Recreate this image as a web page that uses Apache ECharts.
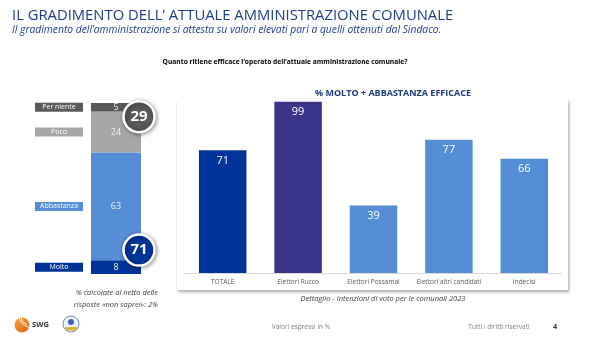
<!DOCTYPE html>
<html>
<head>
<meta charset="utf-8">
<script src="https://cdn.jsdelivr.net/npm/echarts@6/dist/echarts.min.js"></script>
<style>
  html, body { margin: 0; padding: 0; background: #ffffff; }
  #chart { width: 600px; height: 337px; }
</style>
</head>
<body>
<div id="chart"></div>
<script>
// Giudizio complessivo: segmenti dal basso verso l'alto
const judgementNames = ['Molto', 'Abbastanza', 'Poco', 'Per niente'];
const judgementValues = [8, 63, 24, 5];
const judgementColors = ['#003399', '#558ed5', '#a6a6a6', '#595959'];

// % molto + abbastanza efficace per gruppo di elettori
const groupNames = ['TOTALE', 'Elettori Rucco', 'Elettori Possamai', 'Elettori altri candidati', 'Indecisi'];
const groupValues = [71, 99, 39, 77, 66];
const groupColors = ['#003399', '#3b3589', '#558ed5', '#558ed5', '#558ed5'];

const FONT = 'Open Sans';

const positive = judgementValues[0] + judgementValues[1];
const negative = judgementValues[2] + judgementValues[3];

const chart = echarts.init(document.getElementById('chart'), null, { renderer: 'canvas' });

const stackSeries = judgementNames.map((name, i) => ({
  name: name,
  type: 'bar',
  stack: 'giudizio',
  xAxisIndex: 0,
  yAxisIndex: 0,
  barWidth: 50,
  barGap: '-100%',
  data: [judgementValues[i]],
  itemStyle: { color: judgementColors[i] },
  label: {
    show: true,
    position: 'inside',
    color: '#f2f2f2',
    fontFamily: FONT,
    fontSize: 9
  },
  z: 3
}));

// Etichette con il nome della risposta a sinistra di ciascun segmento
const nameSeries = judgementNames.map((name, i) => ({
  name: name + ' etichetta',
  type: 'bar',
  stack: 'nomi',
  xAxisIndex: 0,
  yAxisIndex: 0,
  barWidth: 50,
  barGap: '-100%',
  data: [judgementValues[i]],
  itemStyle: { color: 'rgba(0,0,0,0)' },
  silent: true,
  label: {
    show: true,
    position: [-32, '50%'],
    align: 'center',
    verticalAlign: 'middle',
    formatter: name,
    color: '#ffffff',
    fontFamily: FONT,
    fontSize: 7,
    lineHeight: 8,
    width: 42,
    padding: [1, 3, 0, 3],
    backgroundColor: judgementColors[i]
  },
  z: 4
}));

// Cerchi con i totali negativi e positivi
const badgeSeries = {
  type: 'scatter',
  xAxisIndex: 0,
  yAxisIndex: 0,
  symbol: 'circle',
  symbolSize: 31,
  symbolOffset: [23, 0],
  data: [
    { value: [0, 92], itemStyle: { color: judgementColors[3] }, label: { formatter: String(negative) } },
    { value: [0, 14], itemStyle: { color: judgementColors[0] }, label: { formatter: String(positive) } }
  ],
  itemStyle: {
    opacity: 1,
    borderColor: '#ffffff',
    borderWidth: 2.5,
    shadowColor: 'rgba(0,0,0,0.4)',
    shadowBlur: 4,
    shadowOffsetX: 1,
    shadowOffsetY: 1
  },
  label: {
    show: true,
    position: 'inside',
    color: '#ffffff',
    fontFamily: FONT,
    fontWeight: 'bold',
    fontSize: 15
  },
  z: 10
};

const groupSeries = {
  type: 'bar',
  xAxisIndex: 1,
  yAxisIndex: 1,
  barWidth: '63%',
  data: groupValues.map((v, i) => ({ value: v, itemStyle: { color: groupColors[i] } })),
  label: {
    show: true,
    position: 'insideTop',
    distance: 5,
    color: '#ffffff',
    fontFamily: FONT,
    fontSize: 11
  },
  z: 3
};

const option = {
  animation: false,
  backgroundColor: '#ffffff',
  grid: [
    { left: 91, top: 103, width: 50, height: 171 },
    { left: 185, top: 100, width: 377, height: 173 }
  ],
  xAxis: [
    { type: 'category', gridIndex: 0, data: [''], show: false },
    {
      type: 'category', gridIndex: 1, data: groupNames,
      axisTick: { show: false },
      axisLine: { lineStyle: { color: '#d9d9d9', width: 1 } },
      axisLabel: { color: '#595959', fontFamily: FONT, fontSize: 6.5, margin: 6, interval: 0 }
    }
  ],
  yAxis: [
    { type: 'value', gridIndex: 0, min: 0, max: 100, show: false },
    { type: 'value', gridIndex: 1, min: 0, max: 100, show: false }
  ],
  graphic: [
    // pannello con ombra del grafico di dettaglio
    {
      type: 'rect', z: 0,
      shape: { x: 177, y: 99, width: 391, height: 191 },
      style: { fill: '#ffffff', shadowColor: 'rgba(0,0,0,0.35)', shadowBlur: 3, shadowOffsetX: 1, shadowOffsetY: 2 }
    },
    {
      type: 'text', left: 12, top: 8, z: 5,
      style: { text: 'IL GRADIMENTO DELL\u2019 ATTUALE AMMINISTRAZIONE COMUNALE', fill: '#1f3b8f', font: '14.8px "' + FONT + '"' }
    },
    {
      type: 'text', left: 12, top: 25, z: 5,
      style: { text: 'Il gradimento dell\u2019amministrazione si attesta su valori elevati pari a quelli ottenuti dal Sindaco.', fill: '#1f3b8f', font: 'italic 10.3px "' + FONT + '"' }
    },
    {
      type: 'text', x: 285, y: 62, z: 5,
      style: { text: 'Quanto ritiene efficace l\u2019operato dell\u2019attuale amministrazione comunale?', fill: '#000000', font: 'bold 6.7px "' + FONT + '"', textAlign: 'center', textVerticalAlign: 'middle' }
    },
    {
      type: 'text', x: 393, y: 93, z: 5,
      style: { text: '% MOLTO + ABBASTANZA EFFICACE', fill: '#1f3a7f', font: 'bold 9px "' + FONT + '"', textAlign: 'center', textVerticalAlign: 'middle' }
    },
    {
      type: 'text', x: 383, y: 299, z: 5,
      style: { text: 'Dettaglio - Intenzioni di voto per le comunali 2023', fill: '#404040', font: 'italic 7.5px "' + FONT + '"', textAlign: 'center', textVerticalAlign: 'middle' }
    },
    {
      type: 'text', x: 158, y: 293, z: 5,
      style: { text: '% calcolate al netto delle', fill: '#404040', font: 'italic 7.5px "' + FONT + '"', textAlign: 'right', textVerticalAlign: 'middle' }
    },
    {
      type: 'text', x: 158, y: 305, z: 5,
      style: { text: 'risposte \u00abnon saprei\u00bb: 2%', fill: '#404040', font: 'italic 7.5px "' + FONT + '"', textAlign: 'right', textVerticalAlign: 'middle' }
    },
    {
      type: 'text', x: 301, y: 327, z: 5,
      style: { text: 'Valori espressi in %', fill: '#7f7f7f', font: '6.5px "' + FONT + '"', textAlign: 'center', textVerticalAlign: 'middle' }
    },
    {
      type: 'text', x: 499, y: 327, z: 5,
      style: { text: 'Tutti i diritti riservati', fill: '#7f7f7f', font: '6.5px "' + FONT + '"', textAlign: 'center', textVerticalAlign: 'middle' }
    },
    {
      type: 'text', x: 555, y: 327, z: 5,
      style: { text: '4', fill: '#1f3b8f', font: 'bold 7px "' + FONT + '"', textAlign: 'center', textVerticalAlign: 'middle' }
    },
    // logo SWG
    {
      type: 'circle', z: 5,
      shape: { cx: 22, cy: 325, r: 7.5 },
      style: {
        fill: new echarts.graphic.LinearGradient(0, 0, 1, 1, [
          { offset: 0, color: '#f7a23c' }, { offset: 1, color: '#e0600f' }
        ])
      }
    },
    { type: 'arc', z: 6, shape: { cx: 30, cy: 316, r: 9, startAngle: 1.9, endAngle: 3.4 }, style: { stroke: '#ffffff', lineWidth: 1, fill: null } },
    { type: 'arc', z: 6, shape: { cx: 33, cy: 313, r: 15, startAngle: 1.85, endAngle: 3.2 }, style: { stroke: '#ffffff', lineWidth: 1, fill: null } },
    {
      type: 'text', x: 32, y: 325, z: 5,
      style: { text: 'SWG', fill: '#333333', font: 'bold 7.5px "' + FONT + '"', textVerticalAlign: 'middle' }
    },
    // stemma
    {
      type: 'circle', z: 5,
      shape: { cx: 71, cy: 324, r: 8 },
      style: { fill: '#eef2fa', stroke: '#6f8fc9', lineWidth: 1 }
    },
    { type: 'rect', z: 6, shape: { x: 65, y: 327, width: 12, height: 3.5 }, style: { fill: '#d9b43a' } },
    { type: 'circle', z: 6, shape: { cx: 71, cy: 322, r: 3 }, style: { fill: '#3f63b3' } }
  ],
  series: [...stackSeries, ...nameSeries, badgeSeries, groupSeries]
};

chart.setOption(option);
</script>
</body>
</html>
